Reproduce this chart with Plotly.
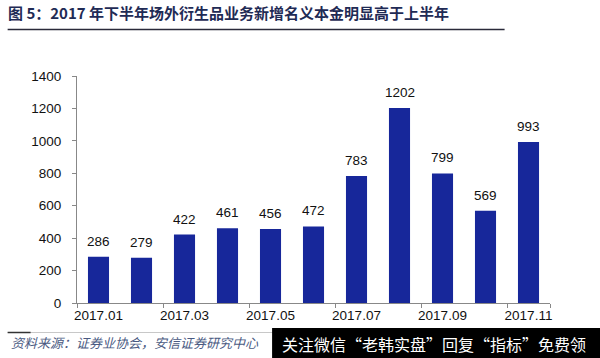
import plotly.graph_objects as go

months = ["2017.01", "2017.02", "2017.03", "2017.04", "2017.05", "2017.06",
          "2017.07", "2017.08", "2017.09", "2017.10", "2017.11"]
notional = [286, 279, 422, 461, 456, 472, 783, 1202, 799, 569, 993]

title_text = "图 5：2017 年下半年场外衍生品业务新增名义本金明显高于上半年"
source_text = "资料来源：证券业协会，安信证券研究中心"
watermark_text = "关注微信“老韩实盘”回复“指标”免费领"

W_FIG, H_FIG = 600, 358
L, R, T, B = 76.5, 550.5, 76, 303
PW, PH = R - L, B - T


def px2x(px):
    return (px - L) / PW


def px2y(py):
    return (B - py) / PH


NUM_FONT = "Liberation Sans, Arial, sans-serif"
CJK_FONT = "Noto Sans CJK SC, sans-serif"

fig = go.Figure()
fig.add_trace(go.Bar(
    x=months, y=notional,
    marker=dict(color="#17279a", line=dict(width=0)),
    width=0.49,
    hoverinfo="x+y",
))

annotations = []
for i, v in enumerate(notional):
    annotations.append(dict(
        x=i, y=v, xref="x", yref="y", text=str(v), showarrow=False,
        yanchor="bottom", yshift=6,
        font=dict(family=NUM_FONT, size=13.5, color="#111111"),
    ))

# source text
annotations.append(dict(
    x=px2x(8), y=px2y(342), xref="paper", yref="paper", xanchor="left",
    yanchor="middle", text=source_text, showarrow=False,
    font=dict(family=CJK_FONT, size=13, color="#4a5a82", style="italic"),
))
# watermark text
annotations.append(dict(
    x=px2x(280), y=px2y(344), xref="paper", yref="paper", xanchor="left",
    yanchor="middle", text=watermark_text, showarrow=False,
    font=dict(family=CJK_FONT, size=16, color="#ffffff"),
))

shapes = [
    dict(type="line", xref="paper", yref="paper",
         x0=px2x(7), x1=px2x(505), y0=px2y(29.5), y1=px2y(29.5),
         line=dict(color="#2a2a3a", width=1.5)),
    dict(type="line", xref="paper", yref="paper",
         x0=px2x(7), x1=px2x(505), y0=px2y(332.5), y1=px2y(332.5),
         line=dict(color="#c8c8c8", width=1)),
    dict(type="line", xref="paper", yref="paper",
         x0=px2x(7), x1=px2x(30), y0=px2y(332.5), y1=px2y(332.5),
         line=dict(color="#333333", width=1.5)),
    dict(type="rect", xref="paper", yref="paper",
         x0=px2x(272), x1=px2x(602), y0=px2y(328), y1=px2y(360),
         fillcolor="#000000", line=dict(width=0)),
]

fig.update_layout(
    width=W_FIG, height=H_FIG,
    margin=dict(l=L, r=W_FIG - R, t=T, b=H_FIG - B, pad=0, autoexpand=False),
    paper_bgcolor="#ffffff", plot_bgcolor="#ffffff",
    showlegend=False,
    title=dict(
        text=title_text, x=8 / W_FIG, xanchor="left", xref="container",
        y=1 - 14 / H_FIG, yanchor="middle", yref="container",
        font=dict(family=CJK_FONT, size=15, color="#1f2b55", weight="bold"),
    ),
    xaxis=dict(
        type="category", tickmode="array",
        tickvals=months[::2], ticktext=months[::2],
        tickson="boundaries", ticks="outside", ticklen=4, tickcolor="#888888",
        tickangle=0, automargin=False,
        showline=True, linecolor="#888888", linewidth=1,
        showgrid=False, zeroline=False,
        tickfont=dict(family=NUM_FONT, size=13.5, color="#111111"),
        range=[-0.5, len(months) - 0.5], fixedrange=True,
    ),
    yaxis=dict(
        range=[0, 1400], tickmode="linear", tick0=0, dtick=200,
        ticks="outside", ticklen=4, tickcolor="#888888",
        showline=True, linecolor="#888888", linewidth=1,
        showgrid=False, zeroline=False, automargin=False,
        tickfont=dict(family=NUM_FONT, size=13.5, color="#111111"),
        ticklabelstandoff=8, fixedrange=True,
    ),
    annotations=annotations,
    shapes=shapes,
    bargap=0.51,
)

fig.write_html(
    "out.html",
    config={"displayModeBar": False},
    post_script="document.body.style.margin='0px';document.body.style.overflow='hidden';",
)
